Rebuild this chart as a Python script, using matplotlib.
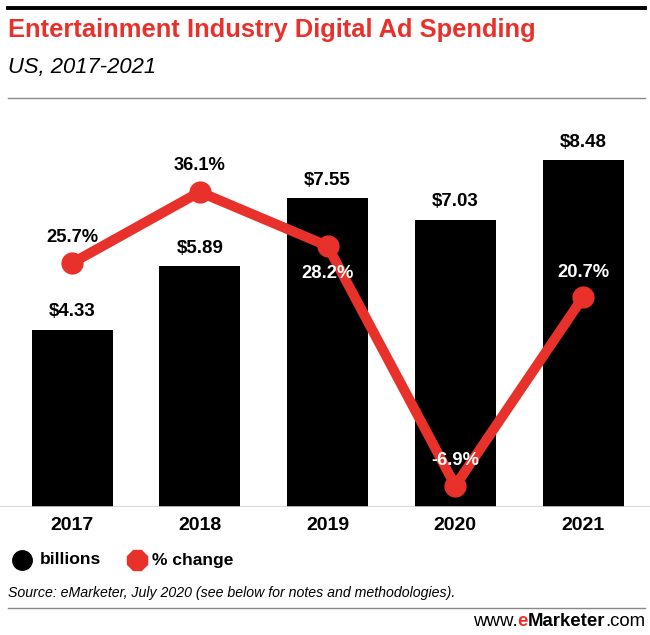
import matplotlib.pyplot as plt
from matplotlib.lines import Line2D

# values
years = ["2017", "2018", "2019", "2020", "2021"]
billions = [4.33, 5.89, 7.55, 7.03, 8.48]
pct_change = [25.7, 36.1, 28.2, -6.9, 20.7]
bar_labels = ["$4.33", "$5.89", "$7.55", "$7.03", "$8.48"]
pct_labels = ["25.7%", "36.1%", "28.2%", "-6.9%", "20.7%"]
pct_offsets = [26, 26, -28, 25, 25]       # px above (+) / below (-) the point
pct_colors = ["black", "black", "white", "white", "white"]

red = "#e8312a"
font = ["Liberation Sans", "DejaVu Sans"]
plt.rcParams["font.family"] = font

fig = plt.figure(figsize=(6.5, 6.35), dpi=100)
renderer = fig.canvas.get_renderer()


def fit(t, width_px):
    # scale a text's font size so it spans the given pixel width
    w = t.get_window_extent(renderer).width
    t.set_fontsize(t.get_fontsize() * width_px / w)
    return t


def fy(py):
    return 1 - py / 635


# main axes: pixel y 110..507, full width
ax = fig.add_axes([0, (635 - 507) / 635, 1, 397 / 635])
x = list(range(len(years)))
ax.bar(x, billions, width=0.634, color="black", zorder=1)
ax.set_xlim(-0.5636, 4.524)
ax.set_ylim(0, 9.71)
ax.axis("off")
for i, v in enumerate(billions):
    ax.annotate(bar_labels[i], (i, v), xytext=(0, 13), textcoords="offset points",
                ha="center", va="center", fontsize=13.5, fontweight="bold")
ax.axhline(0, color="#d0d0d0", lw=1.2)

ax2 = ax.twinx()
ax2.set_ylim(-10.0, 48.1)
ax2.axis("off")
ax2.plot(x, pct_change, color=red, lw=7.2, marker="o", markersize=15,
         solid_capstyle="round", zorder=3)
for i, v in enumerate(pct_change):
    ax2.annotate(pct_labels[i], (i, v), xytext=(0, pct_offsets[i] * 0.72),
                 textcoords="offset points", ha="center", va="center",
                 fontsize=13.2, fontweight="bold", color=pct_colors[i], zorder=4)

# year labels
for i, y in enumerate(years):
    fig.text((72 + 127.75 * i) / 650, fy(525), y, ha="center", va="center",
             fontsize=14, fontweight="bold")

# header
fig.add_artist(Line2D([8 / 650, 645 / 650], [fy(8)] * 2, color="black", lw=2.8))
t = fig.text(8 / 650, fy(30), "Entertainment Industry Digital Ad Spending",
             ha="left", va="center", fontsize=18, fontweight="bold", color=red)
fit(t, 527)
t = fig.text(8 / 650, fy(68), "US, 2017-2021", ha="left", va="center",
             fontsize=15, style="italic")
fit(t, 148)
fig.add_artist(Line2D([8 / 650, 645 / 650], [fy(98)] * 2, color="#888888", lw=1))

# legend
fig.add_artist(Line2D([22 / 650], [fy(560)], marker="o", markersize=14,
                      color="black", lw=0))
t = fig.text(40 / 650, fy(560), "billions", ha="left", va="center",
             fontsize=13, fontweight="bold")
fit(t, 61)
fig.add_artist(Line2D([137 / 650], [fy(560)], marker="8", markersize=15,
                      color=red, lw=0))
t = fig.text(152 / 650, fy(560), "% change", ha="left", va="center",
             fontsize=13, fontweight="bold")
fit(t, 81)

# footer
t = fig.text(8 / 650, fy(593),
             "Source: eMarketer, July 2020 (see below for notes and methodologies).",
             ha="left", va="center", fontsize=10.5, style="italic")
fit(t, 450)
fig.add_artist(Line2D([8 / 650, 645 / 650], [fy(608)] * 2, color="#888888", lw=1))

# www.eMarketer.com, pieces placed one after another
pieces = [("www.", "normal", "black"), ("e", "bold", red),
          ("Marketer", "bold", "black"), (".com", "normal", "black")]
url_size = 13.4
xpos = 473
for s, w, c in pieces:
    t = fig.text(xpos / 650, fy(621), s, ha="left", va="center",
                 fontsize=url_size, fontweight=w, color=c)
    xpos += t.get_window_extent(renderer).width

fig.savefig("out.png", dpi=100)
